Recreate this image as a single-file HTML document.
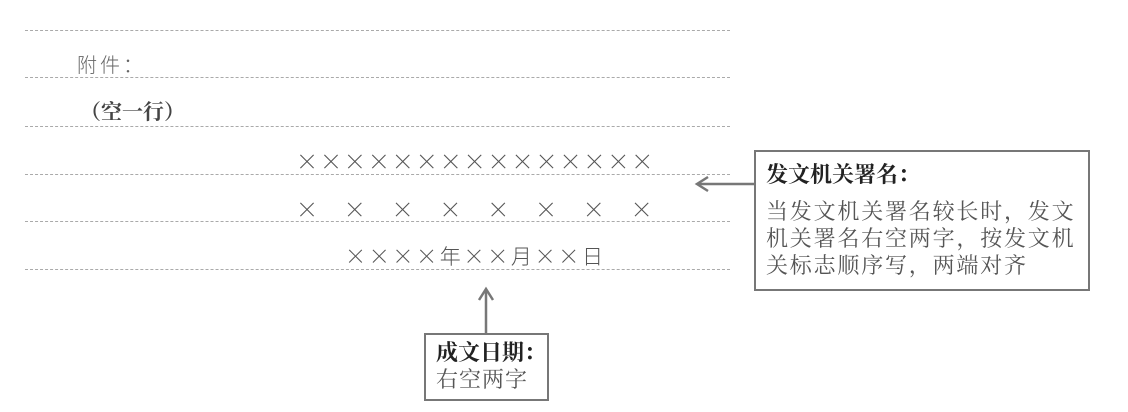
<!DOCTYPE html>
<html><head><meta charset="utf-8"><style>
body{margin:0;width:1128px;height:412px;background:#fff;position:relative;overflow:hidden;font-family:"Liberation Serif","Noto Serif CJK SC",serif;}
.l{position:absolute;left:25px;width:705px;border-top:1px dashed #aaa;height:0}
.t{position:absolute;white-space:nowrap;line-height:1;color:#555}
.box{position:absolute;border:2px solid #777;box-sizing:border-box;background:#fff}
</style></head><body>
<div class="l" style="top:30px"></div>
<div class="l" style="top:77px"></div>
<div class="l" style="top:126px"></div>
<div class="l" style="top:174px"></div>
<div class="l" style="top:221px"></div>
<div class="l" style="top:269px"></div>

<div class="t" style="left:77px;top:54px;font-size:20px;letter-spacing:3px;font-family:'Noto Sans CJK SC',sans-serif;font-weight:300;color:#666">附件：</div>
<div class="t" style="left:80px;top:102px;font-size:21px;font-weight:bold;color:#444">（空一行）</div>

<div class="t" style="left:296px;top:150px;font-size:22px;letter-spacing:1.95px;font-family:'Noto Sans CJK SC',sans-serif;font-weight:300">×××××××××××××××</div>
<div class="t" style="left:296px;top:198px;font-size:22px;letter-spacing:25.8px;font-family:'Noto Sans CJK SC',sans-serif;font-weight:300">××××××××</div>
<div class="t" style="left:345px;top:246px;font-size:21px;letter-spacing:2.7px;font-family:'Noto Sans CJK SC',sans-serif;font-weight:300">××××年××月××日</div>

<svg style="position:absolute;left:0;top:0" width="1128" height="412">
<g stroke="#777" stroke-width="2.5" fill="none">
<line x1="754" y1="184" x2="697" y2="184"/>
<polyline points="708,177 697,184 708,191"/>
<line x1="486" y1="333" x2="486" y2="289"/>
<polyline points="479,300 486,289 493,300"/>
</g></svg>

<div class="box" style="left:754px;top:150px;width:336px;height:141px"></div>
<div class="t" style="left:766px;top:164px;font-size:22px;font-weight:bold;color:#222">发文机关署名：</div>
<div class="t" style="left:766px;top:201px;font-size:22px;letter-spacing:1.8px">当发文机关署名较长时，发文</div>
<div class="t" style="left:766px;top:228px;font-size:22px;letter-spacing:1.8px">机关署名右空两字，按发文机</div>
<div class="t" style="left:766px;top:255px;font-size:22px;letter-spacing:1.8px">关标志顺序写，两端对齐</div>

<div class="box" style="left:424px;top:333px;width:125px;height:68px"></div>
<div class="t" style="left:436px;top:342px;font-size:22px;font-weight:bold;color:#222">成文日期：</div>
<div class="t" style="left:436px;top:369px;font-size:22px;letter-spacing:1px">右空两字</div>
</body></html>
